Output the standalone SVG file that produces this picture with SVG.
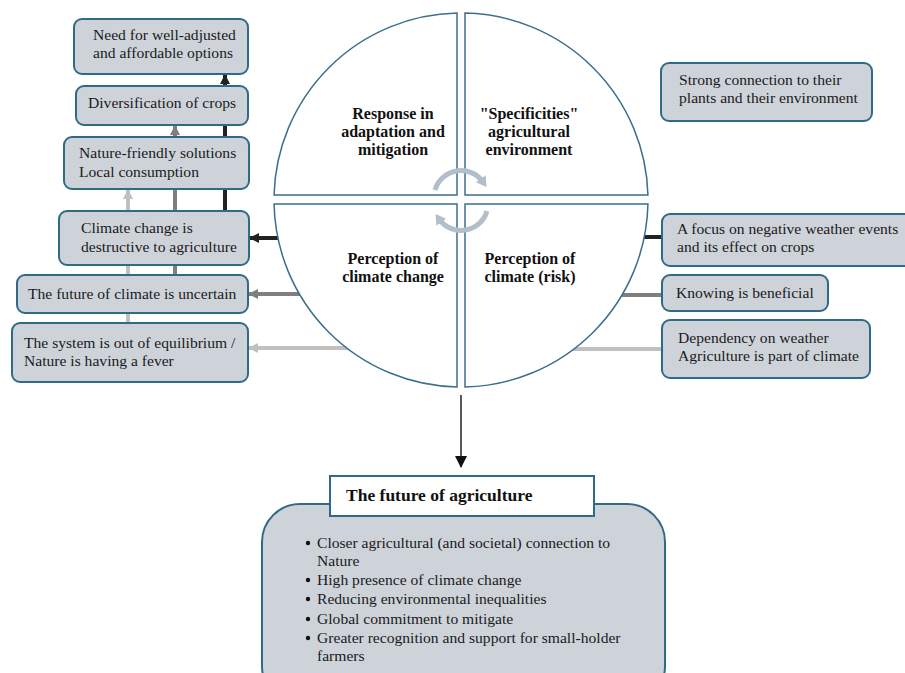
<svg xmlns="http://www.w3.org/2000/svg" width="905" height="673" viewBox="0 0 905 673">
<defs>
<style>
.box{fill:#ced3da;stroke:#2f6b87;stroke-width:2}
.q{fill:#fff;stroke:#3b6f8d;stroke-width:1.5}
.t{font-family:"Liberation Serif","Times New Roman",serif;font-size:15.6px;fill:#1a1a1a}
.qt{font-family:"Liberation Serif","Times New Roman",serif;font-size:16px;font-weight:bold;fill:#111;text-anchor:middle}
.tt{font-family:"Liberation Serif","Times New Roman",serif;font-size:17.5px;font-weight:bold;fill:#111}
.c1{stroke:#222;stroke-width:4;fill:none}
.c2{stroke:#7f7f7f;stroke-width:4;fill:none}
.c3{stroke:#c0c0c0;stroke-width:4;fill:none}
.ca{stroke:#b2bec9;stroke-width:5;fill:none}
</style>
<marker id="a1" markerUnits="userSpaceOnUse" markerWidth="10" markerHeight="10" refX="9" refY="5" orient="auto"><path d="M0,0 L10,5 L0,10 z" fill="#222"/></marker>
<marker id="a2" markerUnits="userSpaceOnUse" markerWidth="10" markerHeight="10" refX="9" refY="5" orient="auto"><path d="M0,0 L10,5 L0,10 z" fill="#7f7f7f"/></marker>
<marker id="a3" markerUnits="userSpaceOnUse" markerWidth="10" markerHeight="10" refX="9" refY="5" orient="auto"><path d="M0,0 L10,5 L0,10 z" fill="#c0c0c0"/></marker>
<marker id="ab" markerUnits="userSpaceOnUse" markerWidth="12" markerHeight="12" refX="11" refY="6" orient="auto"><path d="M0,0 L12,6 L0,12 z" fill="#111"/></marker>
<marker id="ac" markerUnits="userSpaceOnUse" markerWidth="12" markerHeight="12" refX="4" refY="6" orient="auto"><path d="M0,0 L10,6 L0,12 z" fill="#b2bec9"/></marker>
</defs>

<g id="connectors">
<line class="c1" x1="225" y1="212" x2="225" y2="75" marker-end="url(#a1)"/>
<line class="c2" x1="175" y1="276" x2="175" y2="126" marker-end="url(#a2)"/>
<line class="c3" x1="128" y1="324" x2="128" y2="190" marker-end="url(#a3)"/>
<line class="c1" x1="320" y1="238" x2="250" y2="238" marker-end="url(#a1)"/>
<line class="c2" x1="340" y1="294" x2="249" y2="294" marker-end="url(#a2)"/>
<line class="c3" x1="380" y1="348" x2="249" y2="348" marker-end="url(#a3)"/>
<line class="c1" x1="600" y1="237" x2="662" y2="237"/>
<line class="c2" x1="580" y1="295" x2="662" y2="295"/>
<line class="c3" x1="560" y1="349" x2="662" y2="349"/>
<line x1="461" y1="395" x2="461" y2="467" stroke="#222" stroke-width="1.5" marker-end="url(#ab)"/>
</g>

<g id="cycle">
<path class="q" d="M457,195 L274.07,195 A187,187 0 0 1 457,13.04 Z"/>
<path class="q" d="M465,195 L647.93,195 A187,187 0 0 0 465,13.04 Z"/>
<path class="q" d="M457,204 L274.07,204 A187,187 0 0 0 457,386.96 Z"/>
<path class="q" d="M465,204 L647.93,204 A187,187 0 0 1 465,386.96 Z"/>
<path class="ca" d="M435,190 A27,27 0 0 1 483,182" marker-end="url(#ac)"/>
<path class="ca" d="M487,211 A27,27 0 0 1 439,219" marker-end="url(#ac)"/>
</g>

<g id="q-response">
<text class="qt" x="393" y="119">Response in</text>
<text class="qt" x="393" y="137">adaptation and</text>
<text class="qt" x="393" y="155">mitigation</text>
</g>
<g id="q-specificities">
<text class="qt" x="529" y="119">"Specificities"</text>
<text class="qt" x="529" y="137">agricultural</text>
<text class="qt" x="529" y="155">environment</text>
</g>
<g id="q-perception-cc">
<text class="qt" x="393" y="264">Perception of</text>
<text class="qt" x="393" y="282">climate change</text>
</g>
<g id="q-perception-risk">
<text class="qt" x="530" y="264">Perception of</text>
<text class="qt" x="530" y="282">climate (risk)</text>
</g>

<g id="n-need">
<rect class="box" x="74" y="19" width="174" height="55" rx="8"/>
<text class="t" x="93" y="40">Need for well-adjusted</text>
<text class="t" x="93" y="58">and affordable options</text>
</g>
<g id="n-divers">
<rect class="box" x="76" y="86" width="172" height="39" rx="8"/>
<text class="t" x="88" y="108">Diversification of crops</text>
</g>
<g id="n-nature">
<rect class="box" x="64" y="137" width="185" height="52" rx="8"/>
<text class="t" x="79" y="158">Nature-friendly solutions</text>
<text class="t" x="79" y="177">Local consumption</text>
</g>
<g id="n-destructive">
<rect class="box" x="59" y="211" width="190" height="54" rx="8"/>
<text class="t" x="81" y="233">Climate change is</text>
<text class="t" x="81" y="252">destructive to agriculture</text>
</g>
<g id="n-uncertain">
<rect class="box" x="17" y="275" width="231" height="38" rx="8"/>
<text class="t" x="28" y="299">The future of climate is uncertain</text>
</g>
<g id="n-equilibrium">
<rect class="box" x="12" y="323" width="236" height="59" rx="8"/>
<text class="t" x="24" y="348">The system is out of equilibrium /</text>
<text class="t" x="24" y="366">Nature is having a fever</text>
</g>

<g id="n-strong">
<rect class="box" x="661" y="63" width="211" height="58" rx="8"/>
<text class="t" x="679" y="85">Strong connection to their</text>
<text class="t" x="679" y="103">plants and their environment</text>
</g>
<g id="n-focus">
<rect class="box" x="662" y="214" width="250" height="52" rx="8"/>
<text class="t" x="677" y="234">A focus on negative weather events</text>
<text class="t" x="677" y="252">and its effect on crops</text>
</g>
<g id="n-knowing">
<rect class="box" x="662" y="275" width="166" height="36" rx="8"/>
<text class="t" x="676" y="298">Knowing is beneficial</text>
</g>
<g id="n-dependency">
<rect class="box" x="662" y="320" width="208" height="58" rx="8"/>
<text class="t" x="678" y="343">Dependency on weather</text>
<text class="t" x="678" y="361">Agriculture is part of climate</text>
</g>

<g id="n-future">
<rect class="box" x="262" y="504" width="403" height="200" rx="38"/>
<rect x="330" y="476" width="264" height="40" fill="#fff" stroke="#2f6b87" stroke-width="2"/>
<text class="tt" x="346" y="501">The future of agriculture</text>
<circle cx="308" cy="543" r="2.2" fill="#111"/>
<text class="t" x="317" y="548">Closer agricultural (and societal) connection to</text>
<text class="t" x="317" y="566">Nature</text>
<circle cx="308" cy="580" r="2.2" fill="#111"/>
<text class="t" x="317" y="585">High presence of climate change</text>
<circle cx="308" cy="599" r="2.2" fill="#111"/>
<text class="t" x="317" y="604">Reducing environmental inequalities</text>
<circle cx="308" cy="619" r="2.2" fill="#111"/>
<text class="t" x="317" y="624">Global commitment to mitigate</text>
<circle cx="308" cy="638" r="2.2" fill="#111"/>
<text class="t" x="317" y="643">Greater recognition and support for small-holder</text>
<text class="t" x="317" y="661">farmers</text>
</g>
</svg>
